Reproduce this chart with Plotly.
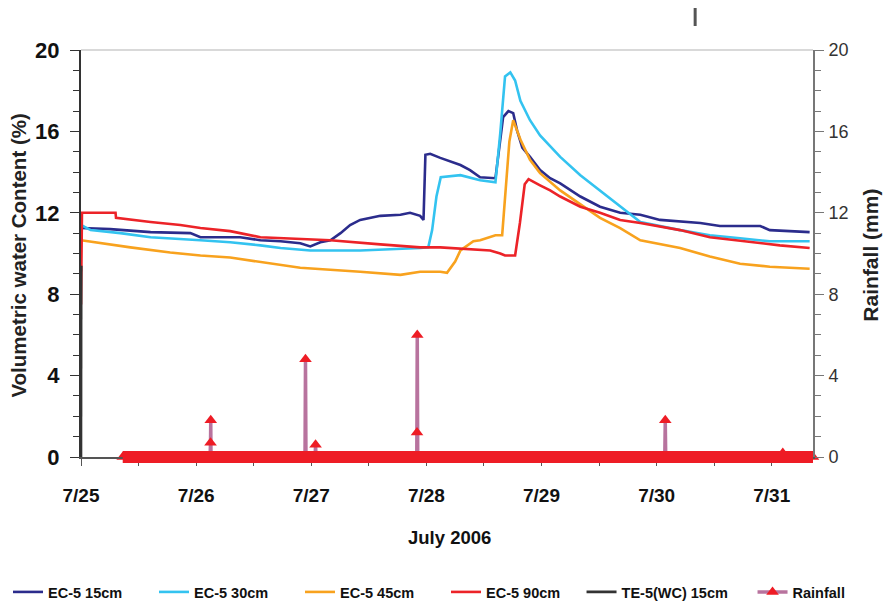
import pandas as pd
import plotly.graph_objects as go

# ---------------- data (hours after 2006-07-25 00:00) ----------------
start = pd.Timestamp("2006-07-25 00:00")

ec15_h = [0, 6.1, 14.5, 22.8, 24.9, 33.2, 37.4, 41.6, 45.7, 47.8, 49.9, 52.0, 54.1, 56.1, 58.2,
          62.4, 66.6, 68.6, 70.7, 71.4, 71.8, 72.8, 74.9, 79.1, 81.1, 83.2, 86.4, 87.4, 88.0,
          89.1, 90.1, 90.9, 92.0, 93.6, 95.7, 97.8, 99.9, 104.1, 108.2, 112.4, 116.6, 120.7,
          129.1, 133.2, 141.6, 143.6, 151.9]
ec15_v = [11.25, 11.2, 11.05, 11.0, 10.8, 10.8, 10.65, 10.6, 10.5, 10.35, 10.55, 10.65, 11.0, 11.4, 11.65,
          11.85, 11.9, 12.0, 11.85, 11.65, 14.85, 14.9, 14.7, 14.35, 14.1, 13.75, 13.7, 15.7, 16.7,
          17.0, 16.9, 16.05, 15.2, 14.75, 14.1, 13.7, 13.45, 12.8, 12.3, 12.0, 11.9, 11.65,
          11.5, 11.35, 11.35, 11.15, 11.05]

ec30_h = [0, 2.0, 8.2, 14.5, 24.9, 31.1, 37.4, 41.6, 47.8, 58.2, 70.7, 72.4, 73.2, 74.1, 75.0,
          79.1, 83.2, 86.4, 87.4, 88.4, 89.5, 90.5, 91.6, 93.6, 95.7, 99.9, 104.1, 108.2, 112.4,
          116.6, 124.9, 131.1, 137.4, 143.6, 151.9]
ec30_v = [11.4, 11.15, 11.0, 10.8, 10.65, 10.55, 10.4, 10.27, 10.15, 10.15, 10.27, 10.3, 11.15, 12.8, 13.75,
          13.85, 13.6, 13.5, 15.9, 18.7, 18.9, 18.5, 17.5, 16.55, 15.8, 14.75, 13.85, 13.1, 12.3,
          11.55, 11.15, 10.9, 10.75, 10.6, 10.6]

ec45_h = [0, 4.1, 10.3, 18.6, 24.9, 31.1, 37.4, 41.6, 45.7, 58.2, 66.6, 70.7, 74.9, 76.3, 78.0,
          79.1, 81.8, 83.2, 86.4, 87.8, 88.6, 89.3, 90.1, 90.9, 91.6, 93.6, 95.7, 99.9, 104.1,
          108.2, 112.4, 116.6, 124.9, 131.1, 137.4, 143.6, 151.9]
ec45_v = [10.65, 10.5, 10.3, 10.05, 9.9, 9.8, 9.6, 9.45, 9.3, 9.1, 8.95, 9.1, 9.1, 9.05, 9.6,
          10.15, 10.6, 10.65, 10.9, 10.9, 13.4, 15.5, 16.55, 16.0, 15.6, 14.6, 13.95, 13.1, 12.4,
          11.75, 11.25, 10.65, 10.27, 9.85, 9.5, 9.35, 9.25]

ec90_h = [0, 0.2, 7.2, 7.3, 14.5, 20.7, 24.9, 31.1, 37.4, 41.6, 52.0, 62.4, 70.7, 74.9, 83.2,
          85.3, 87.4, 88.4, 90.5, 91.5, 92.5, 93.3, 95.7, 97.8, 99.9, 104.1, 108.2, 112.4, 116.6,
          124.9, 131.1, 139.5, 145.7, 151.9]
ec90_v = [7.5, 12.0, 12.0, 11.75, 11.55, 11.4, 11.25, 11.1, 10.8, 10.75, 10.65, 10.45, 10.3, 10.3, 10.2,
          10.15, 10.0, 9.9, 9.9, 11.5, 13.4, 13.65, 13.35, 13.1, 12.8, 12.3, 12.0, 11.65, 11.5,
          11.15, 10.8, 10.55, 10.4, 10.27]

te5_h = [0, 0.05]
te5_v = [0.0, 9.4]

rain_h = [8.7, 26.9, 27.0, 27.05, 27.1, 46.7, 46.8, 46.9, 48.8, 48.9, 49.0, 70.0, 70.05,
          70.1, 70.2, 121.7, 121.8, 121.9, 146.2, 146.3, 146.4, 152.6]
rain_mm = [0, 0, 0.7, 1.8, 0, 0, 4.8, 0, 0, 0.6, 0, 0, 1.2,
           6.0, 0, 0, 1.8, 0, 0, 0.2, 0, 0]

x_end_h = 152.6


def to_time(hours):
    return start + pd.to_timedelta(hours, unit="h")


FONT = "Liberation Sans, Arial, sans-serif"

fig = go.Figure()
series = [
    ("EC-5 15cm", ec15_h, ec15_v, "#2B2C8C", "legend"),
    ("EC-5 30cm", ec30_h, ec30_v, "#33C3F0", "legend"),
    ("EC-5 45cm", ec45_h, ec45_v, "#F8A21E", "legend"),
    ("EC-5 90cm", ec90_h, ec90_v, "#EC2328", "legend"),
    ("TE-5(WC) 15cm", te5_h, te5_v, "#333333", "legend2"),
]
for name, h, v, c, lg in series:
    fig.add_trace(go.Scatter(x=to_time(h), y=v, name=name, mode="lines", legend=lg,
                             line=dict(color=c, width=2.6)))

fig.add_trace(go.Scatter(x=to_time(rain_h), y=rain_mm, name="Rainfall", yaxis="y2",
                         legend="legend2", mode="lines+markers", cliponaxis=False,
                         line=dict(color="#B8739E", width=3.5),
                         marker=dict(symbol="triangle-up", size=11, color="#EE1C25")))

legend_font = dict(family=FONT, size=14.5, color="#111", weight="bold")

fig.update_layout(
    width=887, height=601,
    margin=dict(l=73, r=82, t=42, b=152),
    paper_bgcolor="white", plot_bgcolor="white",
    showlegend=True,
    legend=dict(orientation="h", xref="container", yref="container", x=0, y=0.0283,
                xanchor="left", yanchor="middle", entrywidth=101,
                font=legend_font, itemwidth=30, tracegroupgap=0),
    legend2=dict(orientation="h", xref="container", yref="container", x=0.6466, y=0.0283,
                 xanchor="left", yanchor="middle", entrywidth=126,
                 font=legend_font, itemwidth=30, tracegroupgap=0),
    xaxis=dict(type="date", range=[start, to_time(x_end_h)],
               dtick=86400000, tickformat="%-m/%-d", tick0=start,
               showgrid=False, zeroline=False, showline=True, linecolor="#555", linewidth=1.5,
               ticks="outside", ticklen=7, tickcolor="#555",
               minor=dict(dtick=43200000, ticks="outside", ticklen=7, tickcolor="#555"),
               ticklabelstandoff=13,
               tickfont=dict(family=FONT, size=19, color="#111", weight="bold")),
    yaxis=dict(range=[0, 20], dtick=4, showgrid=False, zeroline=False,
               showline=True, linecolor="#333", linewidth=2,
               ticks="outside", ticklen=9, tickcolor="#333",
               minor=dict(dtick=1, ticks="outside", ticklen=6, tickcolor="#333"),
               ticklabelstandoff=6,
               tickfont=dict(family=FONT, size=22, color="#111", weight="bold")),
    yaxis2=dict(range=[0, 20], dtick=4, overlaying="y", side="right",
                showgrid=False, zeroline=False, showline=True, linecolor="#777", linewidth=2,
                ticks="outside", ticklen=9, tickcolor="#777",
                minor=dict(dtick=1, ticks="outside", ticklen=6, tickcolor="#777"),
                ticklabelstandoff=1,
                tickfont=dict(family=FONT, size=18, color="#333")),
    shapes=[
        # top frame line
        dict(type="line", xref="paper", yref="paper", x0=0, x1=1, y0=1, y1=1,
             line=dict(color="#CCCCCC", width=1.5)),
        # rainfall zero-reading band
        dict(type="rect", xref="x", yref="paper", x0=to_time(rain_h[0]), x1=to_time(rain_h[-1]),
             ysizemode="pixel", yanchor=0, y0=-6, y1=6,
             fillcolor="#EE1C25", line=dict(width=0), layer="above"),
        # stray mark above plot
        dict(type="line", xref="paper", yref="paper", x0=0.839, x1=0.839, y0=1.059, y1=1.106,
             line=dict(color="#555", width=3)),
    ],
    annotations=[
        dict(text="Volumetric water Content (%)", xref="paper", yref="paper", x=-0.086, y=0.495,
             textangle=-90, showarrow=False, xanchor="center", yanchor="middle",
             font=dict(family=FONT, size=20.5, color="#222", weight="bold")),
        dict(text="Rainfall (mm)", xref="paper", yref="paper", x=1.078, y=0.495,
             textangle=-90, showarrow=False, xanchor="center", yanchor="middle",
             font=dict(family=FONT, size=21, color="#222", weight="bold")),
        dict(text="July 2006", xref="paper", yref="paper", x=0.504, y=-0.197,
             showarrow=False, xanchor="center", yanchor="middle",
             font=dict(family=FONT, size=18.5, color="#111", weight="bold")),
    ],
)

fig.write_html("out.html")
